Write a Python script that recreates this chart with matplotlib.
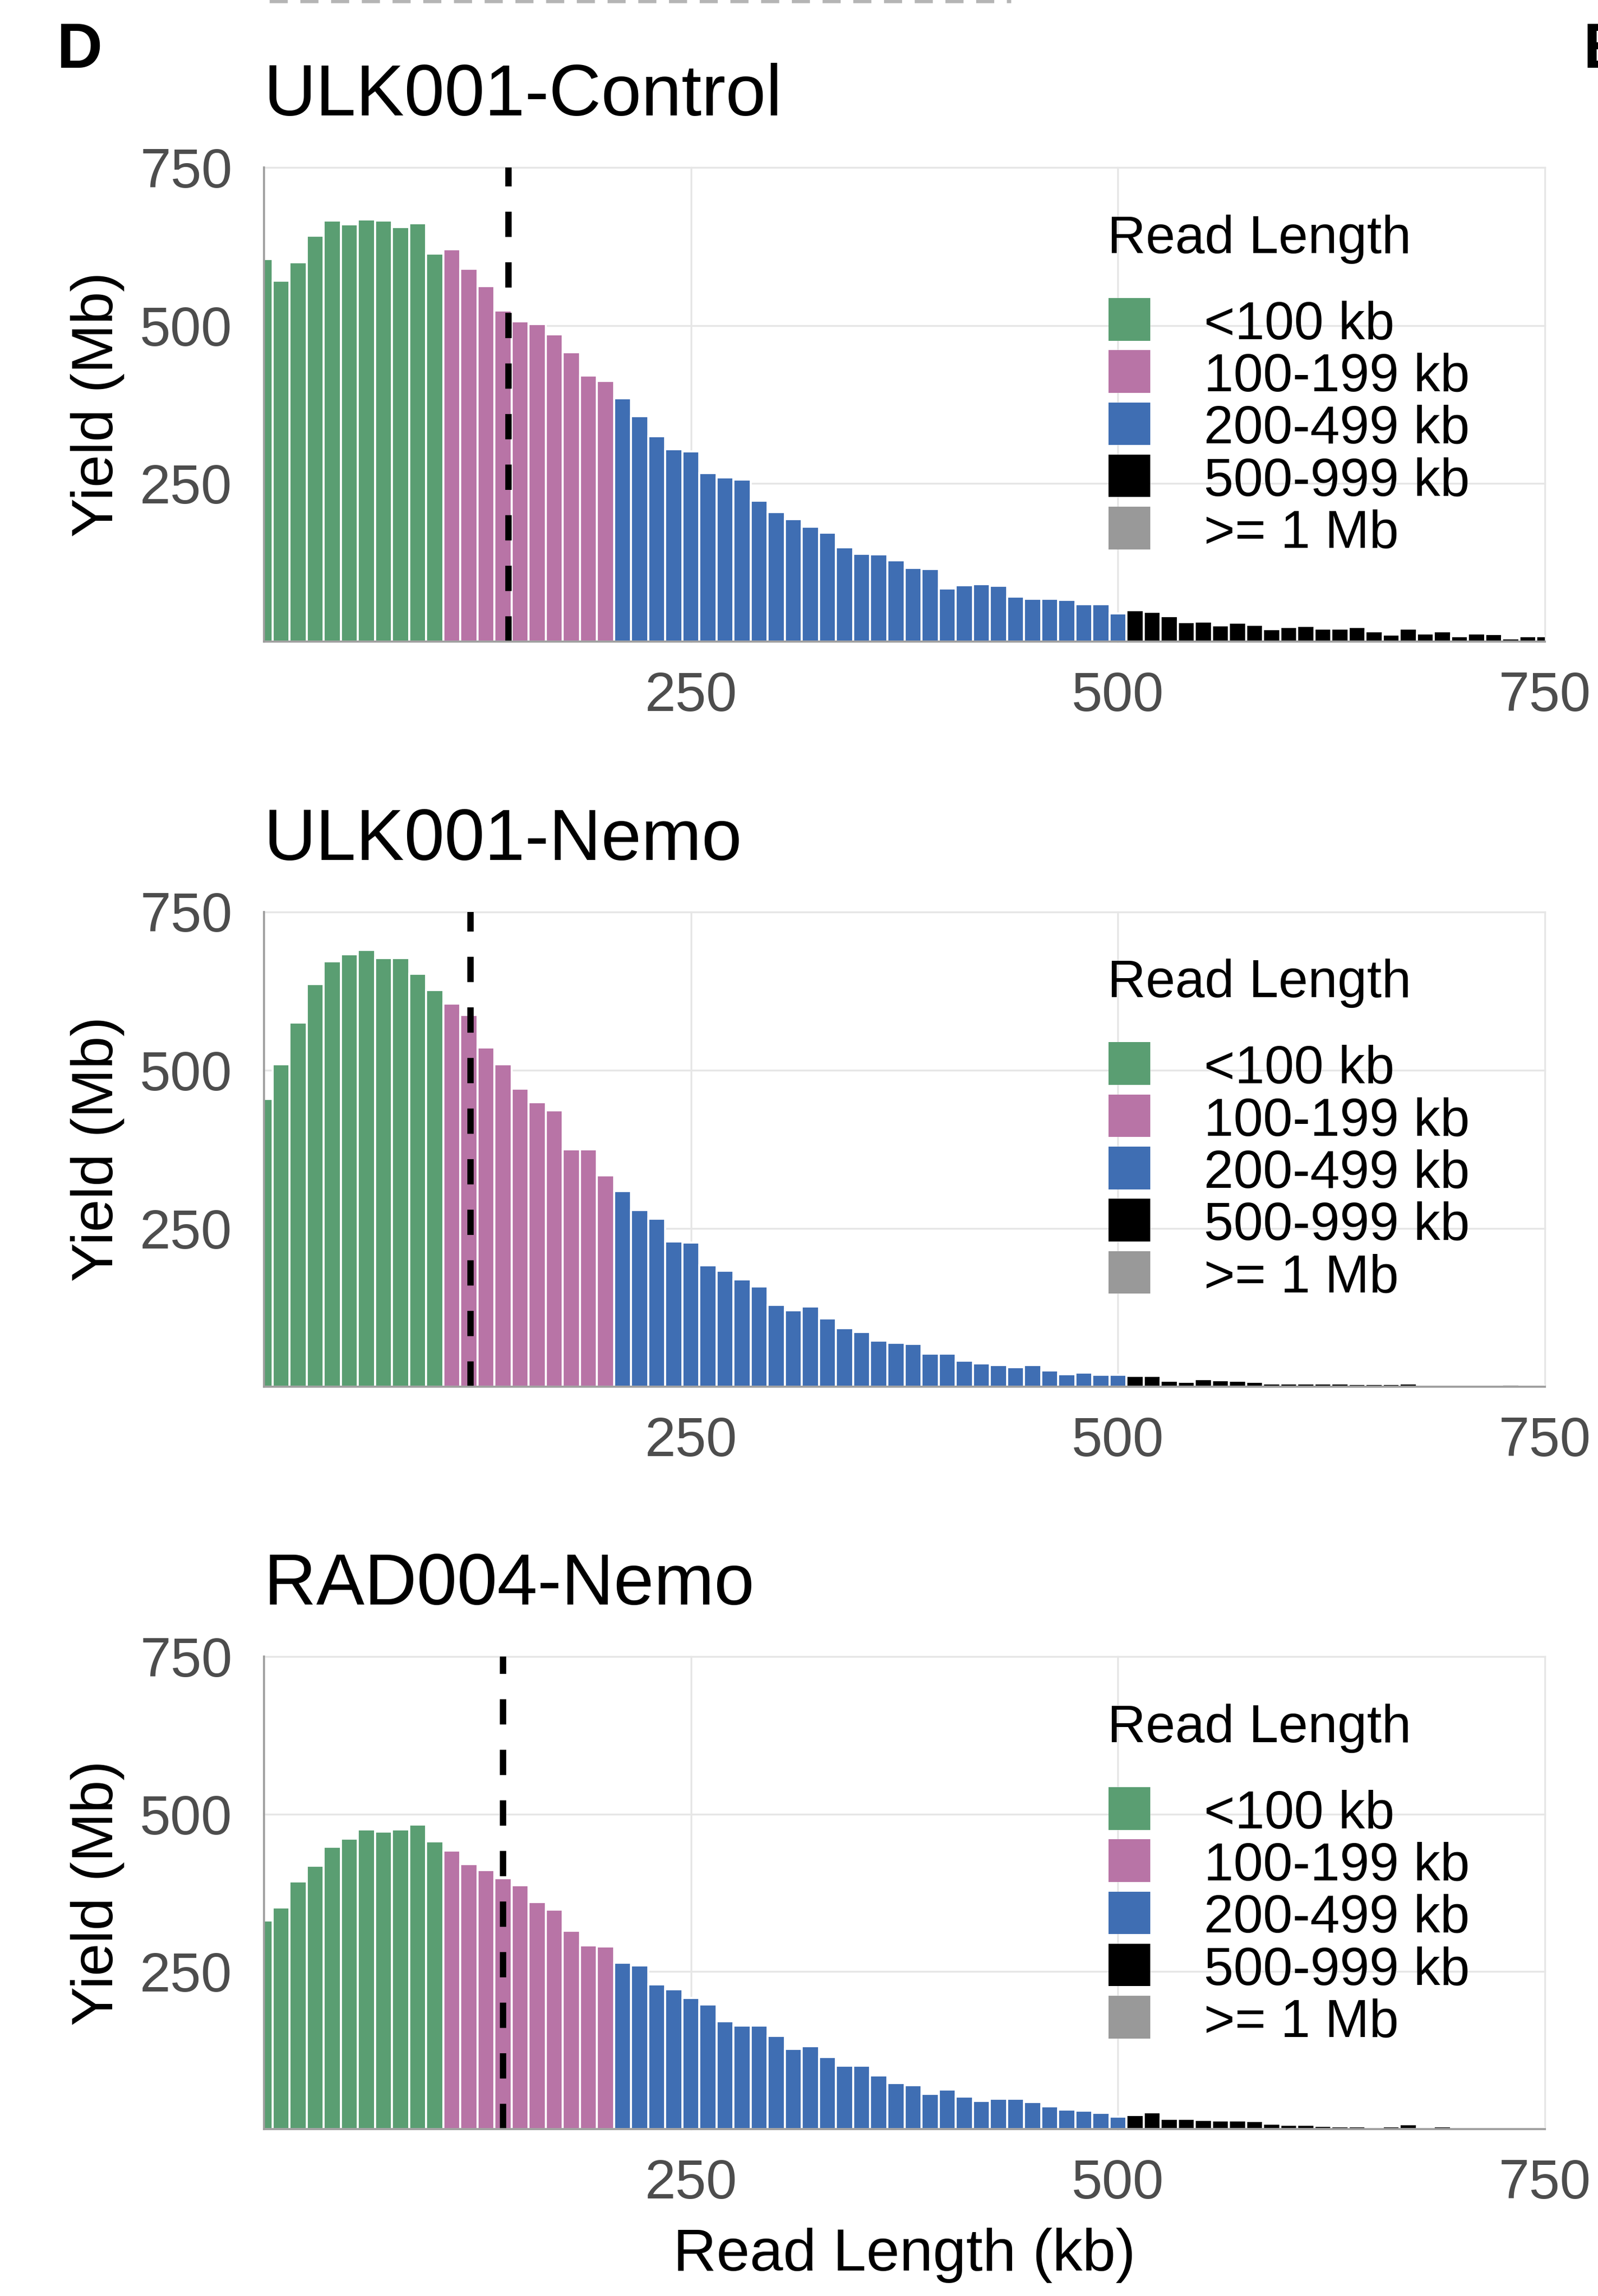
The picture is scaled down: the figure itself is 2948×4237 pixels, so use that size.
import numpy as np
import matplotlib
matplotlib.use("Agg")
import matplotlib.pyplot as plt
from matplotlib.patches import Rectangle
from matplotlib.lines import Line2D

plt.rcParams['font.family'] = ['Liberation Sans', 'DejaVu Sans']

W, H, DPI = 2948, 4237, 300

# ---------------- data ----------------
bin_centers = np.arange(0, 760, 10)  # read-length bins (kb)

titles = ["ULK001-Control", "ULK001-Nemo", "RAD004-Nemo"]

ctrl_yield = [605, 571, 600, 642, 666, 660, 668, 666, 656, 662, 614,
              621, 590, 562, 524, 507, 502, 486, 458, 421, 412,
              385, 357, 325, 304, 301, 267, 260, 256, 223, 205,
              194, 182, 172, 149, 139, 138, 129, 117, 115, 84,
              89, 91, 88, 71, 68, 68, 66, 59, 59, 45,
              50, 47, 40, 31, 32, 26, 30, 27, 20, 23, 25, 21, 21, 23, 16,
              11, 21, 13, 16, 9, 13, 12, 5, 9, 9]

nemo_yield = [454, 509, 575, 636, 672, 683, 690, 677, 677, 652, 626,
              605, 587, 536, 509, 471, 449, 436, 375, 375, 334,
              309, 279, 265, 229, 228, 192, 183, 169, 158, 129,
              121, 127, 108, 92, 86, 73, 69, 68, 52, 52,
              41, 37, 34, 31, 34, 26, 20, 22, 19, 19,
              17, 17, 9, 8, 12, 10, 9, 8, 5, 5, 5, 5, 5, 4, 4,
              4, 5, 2, 2, 2, 2, 2, 3, 2, 2]

rad_yield = [331, 352, 393, 418, 448, 461, 476, 472, 476, 483, 457,
             442, 421, 411, 398, 387, 360, 348, 315, 292, 290,
             264, 260, 230, 222, 208, 198, 171, 164, 164, 148,
             127, 132, 114, 101, 101, 85, 73, 70, 56, 63,
             52, 45, 48, 48, 43, 36, 31, 29, 26, 20,
             22, 27, 16, 16, 15, 14, 14, 13, 9, 7, 7, 5, 4, 4, 2,
             4, 8, 3, 4, 3, 3, 2, 3, 3, 2]

median_kb = [143, 121, 140]

categories = ["<100 kb", "100-199 kb", "200-499 kb", "500-999 kb", ">= 1 Mb"]
cat_colors = ["#5A9E72", "#B874A6", "#3F6EB3", "#000000", "#999999"]
cat_edges = [105, 205, 505, 1000]   # bin-center boundaries between classes

x_ticks = [250, 500, 750]
y_ticks = [250, 500, 750]

# ---------------- layout (pixels) ----------------
left_px, right_px = 487, 2850
axes_tb = [(309, 1184), (1682.5, 2559), (3057, 3929)]

fig = plt.figure(figsize=(W / DPI, H / DPI), dpi=DPI)
fig.patch.set_facecolor("white")


def fx(x):
    return x / W


def fy(y):
    return 1 - y / H


all_yields = [ctrl_yield, nemo_yield, rad_yield]
bar_cat = np.digitize(bin_centers, cat_edges)

for i, (title, yields, med) in enumerate(zip(titles, all_yields, median_kb)):
    top, bot = axes_tb[i]
    ax = fig.add_axes([fx(left_px), fy(bot), (right_px - left_px) / W, (bot - top) / H])
    colors = [cat_colors[c] for c in bar_cat]
    ax.bar(bin_centers, yields, width=10, color=colors, edgecolor="white",
           linewidth=0.9, zorder=2)
    ax.axvline(med, color="black", lw=2.8, dashes=(4, 4), zorder=3)

    ax.set_xlim(0, 750)
    ax.set_ylim(0, 750)
    ax.set_xticks(x_ticks)
    ax.set_yticks(y_ticks)
    ax.grid(True, color="#E6E6E6", lw=0.8, zorder=0)
    ax.set_axisbelow(True)
    for gl in ax.get_xgridlines() + ax.get_ygridlines():
        gl.set_clip_on(False)
    for s in ["top", "right"]:
        ax.spines[s].set_visible(False)
    for s in ["left", "bottom"]:
        ax.spines[s].set_color("#9E9E9E")
        ax.spines[s].set_linewidth(0.9)
        ax.spines[s].set_zorder(4)
    ax.tick_params(axis="both", length=0, labelsize=24.5, colors="#4D4D4D")
    ax.tick_params(axis="x", pad=13)
    ax.tick_params(axis="y", pad=14)

    ax.text(-0.1299, 0.5, "Yield (Mb)", rotation=90, ha="center", va="center",
            transform=ax.transAxes, fontsize=26, color="black")

    # panel title
    fig.text(fx(left_px), fy(top - 96), title, fontsize=32, ha="left",
             va="baseline", color="black")

    # legend (drawn manually to match spacing)
    fig.text(fx(2043), fy(top + 158), "Read Length", fontsize=23.5,
             ha="left", va="baseline", color="black")
    for k, (lab, col) in enumerate(zip(categories, cat_colors)):
        kb = top + 319.5 + 96.3 * k
        fig.add_artist(Rectangle((fx(2044.5), fy(kb)), 77.5 / W, 78.5 / H,
                                 transform=fig.transFigure, facecolor=col,
                                 edgecolor="none"))
        fig.text(fx(2221), fy(kb - 3), lab, fontsize=23.5, ha="left",
                 va="baseline", color="black")

# x-axis label
fig.text(fx((left_px + right_px) / 2), fy(4190), "Read Length (kb)",
         fontsize=26.5, ha="center", va="baseline", color="black")

# panel letters (E belongs to the neighbouring panel, cut by the frame)
fig.text(fx(104), fy(125), "D", fontsize=28, fontweight="bold", ha="left", va="baseline")
fig.text(fx(2920), fy(125), "E", fontsize=28, fontweight="bold", ha="left", va="baseline")

# cropped remnant of the panel above
fig.add_artist(Line2D([fx(497), fx(1865)], [fy(2), fy(2)], transform=fig.transFigure,
                      color="#B5B5B5", lw=1.6, dashes=(5, 3.5)))

fig.savefig("out.png", dpi=DPI, facecolor="white")
